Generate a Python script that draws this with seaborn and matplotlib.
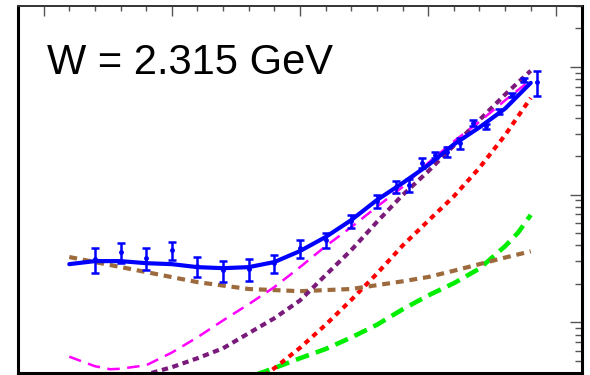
import numpy as np
import pandas as pd
import matplotlib
matplotlib.use("Agg")
import matplotlib.pyplot as plt
from matplotlib.ticker import LogLocator, MultipleLocator, NullFormatter
import seaborn as sns

# ---- measured differential cross section at W = 2.315 GeV ----
cos_data = [-0.8, -0.7, -0.6, -0.5, -0.4, -0.3, -0.2, -0.1, 0.0, 0.1, 0.2, 0.3,
            0.375, 0.425, 0.475, 0.525, 0.575, 0.625, 0.675, 0.725, 0.775, 0.825,
            0.875, 0.925]
xsec_data = [0.0312, 0.0354, 0.0318, 0.0367, 0.0275, 0.0256, 0.0261, 0.0290,
             0.0380, 0.0440, 0.0620, 0.0890, 0.1146, 0.1190, 0.1770, 0.2040,
             0.2160, 0.2530, 0.3640, 0.3440, 0.4440, 0.6030, 0.7900, 0.7620]
xsec_err = [0.0068, 0.0062, 0.0060, 0.0058, 0.0048, 0.0048, 0.0050, 0.0048,
            0.0063, 0.0060, 0.0075, 0.0100, 0.0120, 0.0140, 0.0160, 0.0120,
            0.0200, 0.0250, 0.0200, 0.0150, 0.0200, 0.0250, 0.0300, 0.1700]

# ---- model curves ----
cos_total = [-0.9, -0.8, -0.7, -0.6, -0.5, -0.4, -0.3, -0.2, -0.1, 0.0, 0.1,
             0.2, 0.3, 0.4, 0.5, 0.6, 0.7, 0.8, 0.9]
xsec_total = [0.0285, 0.0301, 0.0301, 0.0290, 0.0285, 0.0270, 0.0265, 0.0270,
              0.0296, 0.0361, 0.0465, 0.0631, 0.0906, 0.1230, 0.1700, 0.2470,
              0.3360, 0.4710, 0.7500]

cos_brown = [-0.9, -0.8, -0.6, -0.4, -0.2, 0.0, 0.2, 0.4, 0.5, 0.6, 0.7, 0.8, 0.9]
xsec_brown = [0.0324, 0.0296, 0.0247, 0.0206, 0.0182, 0.0175, 0.0182, 0.0209,
              0.0226, 0.0253, 0.0285, 0.0321, 0.0359]

cos_magenta = [-0.9, -0.8, -0.74, -0.7, -0.6, -0.5, -0.4, -0.3, -0.2, -0.1, 0.0,
               0.1, 0.2, 0.3, 0.4, 0.5, 0.6, 0.7, 0.8, 0.9]
xsec_magenta = [0.00537, 0.00452, 0.00428, 0.00432, 0.00460, 0.00578, 0.00762,
                0.01033, 0.01384, 0.01884, 0.0270, 0.0394, 0.0556, 0.0802,
                0.1146, 0.1770, 0.2610, 0.3720, 0.5470, 0.7900]

cos_purple = [-0.62, -0.5, -0.4, -0.3, -0.2, -0.1, 0.0, 0.1, 0.2, 0.3, 0.4, 0.5,
              0.6, 0.7, 0.8, 0.9]
xsec_purple = [0.00380, 0.00444, 0.00522, 0.00625, 0.0082, 0.01074, 0.01480,
               0.0234, 0.0367, 0.0610, 0.0991, 0.1520, 0.2420, 0.3840, 0.6080,
               0.9330]

cos_red = [-0.14, -0.1, 0.0, 0.1, 0.2, 0.3, 0.4, 0.5, 0.6, 0.7, 0.8, 0.9]
xsec_red = [0.00380, 0.00436, 0.0063, 0.00955, 0.01496, 0.0240, 0.0398, 0.0622,
            0.0968, 0.1620, 0.2920, 0.5710]

cos_green = [-0.17, -0.1, 0.0, 0.1, 0.2, 0.3, 0.4, 0.5, 0.6, 0.7, 0.8, 0.85, 0.9]
xsec_green = [0.00390, 0.00437, 0.00522, 0.00617, 0.00759, 0.00955, 0.0126,
              0.0162, 0.0202, 0.0263, 0.0394, 0.0501, 0.0692]

title = "W = 2.315 GeV"

sns.set_style("white")
plt.rcParams["font.family"] = ["Liberation Sans", "DejaVu Sans"]

fig = plt.figure(figsize=(5.9, 3.75), dpi=100)
ax = fig.add_axes([18 / 590, 2 / 375, 564 / 590, 367 / 375])

curves = [
    (cos_green, xsec_green, "#00ee00", 3.3, (0, (3.0, 1.6))),
    (cos_red, xsec_red, "#ff0000", 3.0, (0, (1.3, 1.2))),
    (cos_brown, xsec_brown, "#9c6a3c", 3.0, (0, (1.9, 1.4))),
    (cos_purple, xsec_purple, "#7a1a7a", 3.0, (0, (1.5, 1.1))),
    (cos_magenta, xsec_magenta, "#ff00ff", 1.8, (0, (5.0, 3.0))),
]
for xs, ys, col, lw, ls in curves:
    sns.lineplot(x=xs, y=ys, ax=ax, color=col, lw=lw, linestyle=ls,
                 estimator=None, sort=False)

sns.lineplot(x=cos_total, y=xsec_total, ax=ax, color="#0000ff", lw=3.0,
             estimator=None, sort=False)

ax.errorbar(cos_data, xsec_data, yerr=xsec_err, fmt="o", color="#0000ff",
            ms=2.5, elinewidth=1.8, capsize=3.0, capthick=1.8, zorder=5)

ax.set_yscale("log")
ax.set_xlim(-1.1, 1.1)
ax.set_ylim(0.004, 3.0)

ax.xaxis.set_major_locator(MultipleLocator(0.5))
ax.xaxis.set_minor_locator(MultipleLocator(0.1))
ax.yaxis.set_major_locator(LogLocator(base=10))
ax.yaxis.set_minor_locator(LogLocator(base=10, subs=np.arange(2, 10)))
for axis in (ax.xaxis, ax.yaxis):
    axis.set_major_formatter(NullFormatter())
    axis.set_minor_formatter(NullFormatter())

ax.tick_params(which="both", direction="in", top=True, right=True,
               color="#555555", width=1.0)
ax.tick_params(axis="x", which="major", length=7.5)
ax.tick_params(axis="x", which="minor", length=3.8)
ax.tick_params(axis="y", which="major", length=9.0)
ax.tick_params(axis="y", which="minor", length=5.0)

for side in ("left", "bottom", "right"):
    ax.spines[side].set_linewidth(2.2)
    ax.spines[side].set_color("black")
ax.spines["top"].set_linewidth(1.4)
ax.spines["top"].set_color("#333333")
ax.set_xlabel("")
ax.set_ylabel("")

ax.text(0.0514, 0.815, title, transform=ax.transAxes, fontsize=30,
        va="baseline", ha="left", color="black")

fig.savefig("out.png", dpi=100)
